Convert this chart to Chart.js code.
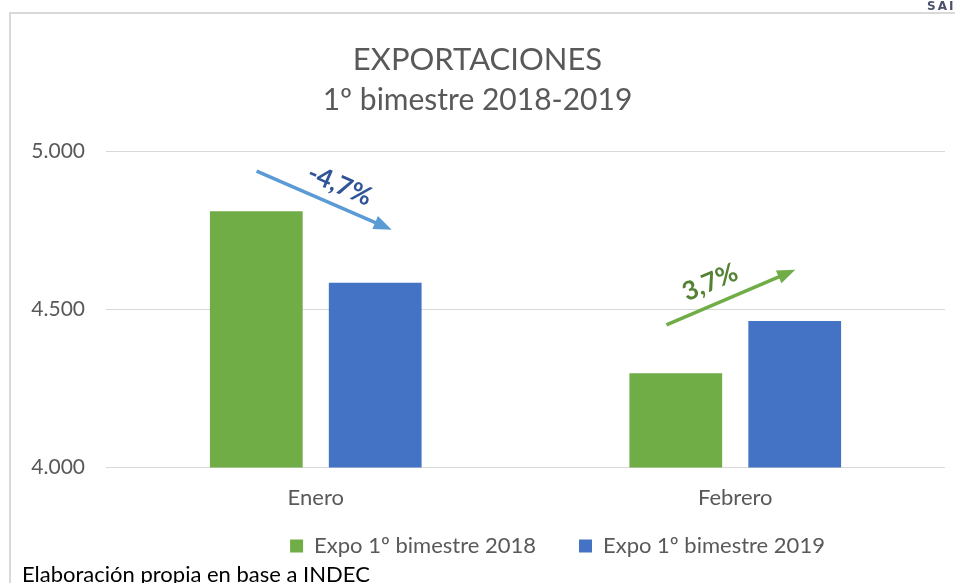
<!DOCTYPE html>
<html>
<head>
<meta charset="utf-8">
<script src="https://cdn.jsdelivr.net/npm/chart.js@4.4.0/dist/chart.umd.min.js"></script>
<style>
  body { margin: 0; background: #fff; overflow: hidden; }
  #wrap { position: relative; width: 955px; height: 583px; overflow: hidden; }
  #frame { position: absolute; left: 9px; top: 12px; width: 1000px; height: 700px;
           border-left: 2px solid #d9d9d9; border-top: 2px solid #d9d9d9; }
  #myChart { position: absolute; left: 0; top: 0; }
  #nota { position: absolute; left: 22px; top: 560px; font: 22px Lato, sans-serif; color: #000; white-space: nowrap; }
  #sai { position: absolute; left: 927px; top: -1px; font: bold 12px "DejaVu Sans", sans-serif; color: #4a4f6a; letter-spacing: 2px; }
</style>
</head>
<body>
<div id="wrap">
  <div id="frame"></div>
  <canvas id="myChart" width="955" height="583"></canvas>
  <div id="nota">Elaboración propia en base a INDEC</div>
  <div id="sai">SAI</div>
</div>
<script>
var meses = ["Enero", "Febrero"];
var expo2018 = [4810, 4298];
var expo2019 = [4584, 4463];
var etiquetas = ["Expo 1º bimestre 2018", "Expo 1º bimestre 2019"];
var variaciones = ["-4,7%", "3,7%"];

function miles(v) {
  return String(v).replace(/\B(?=(\d{3})+(?!\d))/g, ".");
}

// flechas de variacion (x en unidades de categoria, y en valores del eje)
var flechas = [
  { x0: -0.141, y0: 4937, x1: 0.181, y1: 4752, color: "#5b9bd5", tx: 0.057, ty: 4893, txtColor: "#2f5597" },
  { x0: 1 - 0.164, y0: 4451, x1: 1 + 0.143, y1: 4625, color: "#70ad47", tx: 1 - 0.06, ty: 4585, txtColor: "#548235" }
];

var pluginFlechas = {
  id: "flechas",
  afterUpdate: function(chart) {
    // la leyenda del original esta corrida a la derecha y mas arriba
    chart.legend.left += 32;
    chart.legend.right += 32;
    chart.legend.top -= 28;
    chart.legend.bottom -= 28;
  },
  afterDatasetsDraw: function(chart) {
    var ctx = chart.ctx;
    var xs = chart.scales.x, ys = chart.scales.y;
    for (var i = 0; i < flechas.length; i++) {
      var f = flechas[i];
      var ax = xs.getPixelForValue(f.x0), ay = ys.getPixelForValue(f.y0);
      var bx = xs.getPixelForValue(f.x1), by = ys.getPixelForValue(f.y1);
      var ang = Math.atan2(by - ay, bx - ax);
      ctx.save();
      ctx.strokeStyle = f.color;
      ctx.fillStyle = f.color;
      ctx.lineWidth = 3.5;
      ctx.beginPath();
      ctx.moveTo(ax, ay);
      ctx.lineTo(bx - 14 * Math.cos(ang), by - 14 * Math.sin(ang));
      ctx.stroke();
      ctx.beginPath();
      ctx.moveTo(bx, by);
      ctx.lineTo(bx - 18 * Math.cos(ang) + 7 * Math.sin(ang), by - 18 * Math.sin(ang) - 7 * Math.cos(ang));
      ctx.lineTo(bx - 18 * Math.cos(ang) - 7 * Math.sin(ang), by - 18 * Math.sin(ang) + 7 * Math.cos(ang));
      ctx.closePath();
      ctx.fill();
      // texto
      var tx = xs.getPixelForValue(f.tx), ty = ys.getPixelForValue(f.ty);
      ctx.translate(tx, ty);
      ctx.rotate(ang);
      ctx.fillStyle = f.txtColor;
      ctx.font = "bold 26px Lato, sans-serif";
      ctx.textAlign = "center";
      ctx.textBaseline = "middle";
      ctx.fillText(variaciones[i], 0, 0);
      ctx.restore();
    }
  }
};

var ctx = document.getElementById("myChart");
var chart = new Chart(ctx, {
  type: "bar",
  data: {
    labels: meses,
    datasets: [
      { label: etiquetas[0], data: expo2018, backgroundColor: "#70ad47" },
      { label: etiquetas[1], data: expo2019, backgroundColor: "#4472c4" }
    ]
  },
  options: {
    responsive: false,
    animation: false,
    layout: { padding: { left: 10, right: 10, top: 0, bottom: -12 } },
    datasets: { bar: { categoryPercentage: 0.567, barPercentage: 0.78 } },
    scales: {
      x: {
        grid: { display: false },
        border: { display: false },
        ticks: { color: "#595959", font: { family: "Lato", size: 22 }, padding: 9 }
      },
      y: {
        min: 4000, max: 5000,
        afterFit: function(s) { s.width = 96; },
        grid: { color: "#d9d9d9", drawTicks: false },
        border: { display: false },
        ticks: {
          stepSize: 500, padding: 21, color: "#595959",
          font: { family: "Lato", size: 21 },
          callback: function(v) { return miles(v); }
        }
      }
    },
    plugins: {
      title: {
        display: true, text: "EXPORTACIONES", color: "#595959",
        font: { family: "Lato", size: 31, weight: "normal" },
        padding: { top: 41, bottom: 2 }
      },
      subtitle: {
        display: true, text: "1º bimestre 2018-2019", color: "#595959",
        font: { family: "Lato", size: 30 },
        padding: { top: 2, bottom: 33 }
      },
      legend: {
        position: "bottom",
        fullSize: false,
        labels: { color: "#595959", font: { family: "Lato", size: 22 }, boxWidth: 13, boxHeight: 13, padding: 43 }
      },
      tooltip: { enabled: false }
    }
  },
  plugins: [pluginFlechas]
});
</script>
</body>
</html>
